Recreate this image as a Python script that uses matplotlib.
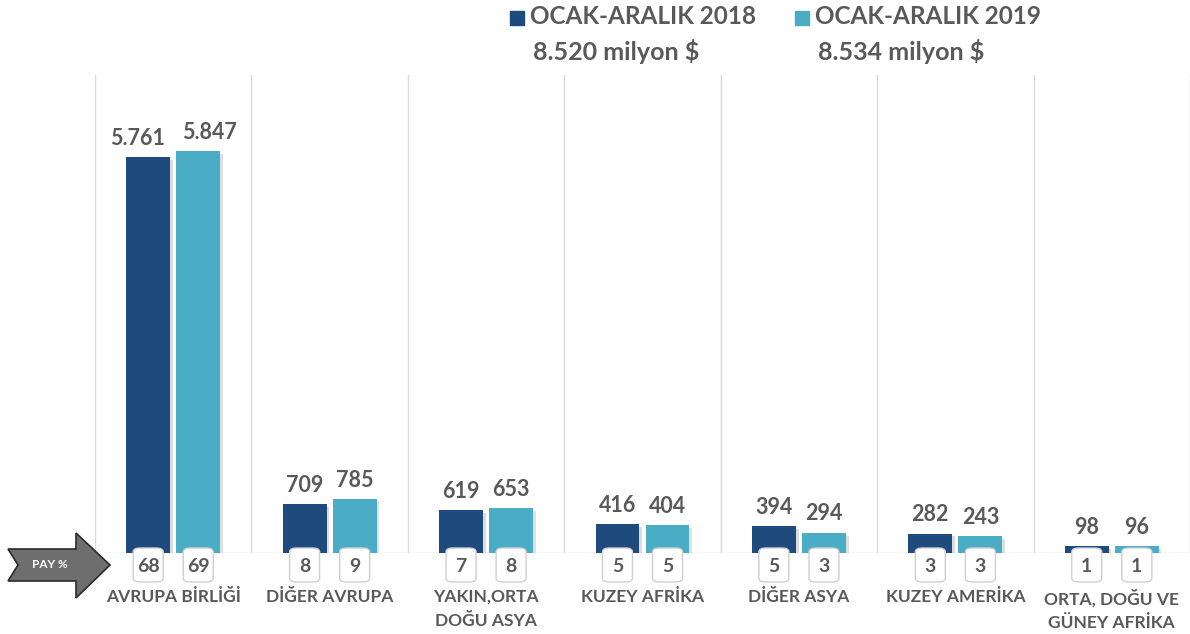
"""Regional export comparison, 2018 vs 2019."""

import matplotlib.pyplot as plt
import matplotlib.patheffects as pe
import numpy as np
from matplotlib.patches import FancyBboxPatch, Polygon

categories = [
    "AVRUPA BİRLİĞİ",
    "DİĞER AVRUPA",
    "YAKIN,ORTA\nDOĞU ASYA",
    "KUZEY AFRİKA",
    "DİĞER ASYA",
    "KUZEY AMERİKA",
    "ORTA, DOĞU VE\nGÜNEY AFRİKA",
]
values_2018 = [5761, 709, 619, 416, 394, 282, 98]
values_2019 = [5847, 785, 653, 404, 294, 243, 96]
share_2018 = [68, 8, 7, 5, 5, 3, 1]
share_2019 = [69, 9, 8, 5, 3, 3, 1]
legend_labels = ["OCAK-ARALIK 2018", "OCAK-ARALIK 2019"]
totals = ["8.520 milyon $", "8.534 milyon $"]

DARK = "#1f4a7e"
LIGHT = "#4bacc6"
TEXT = "#595959"
GRID = "#d9d9d9"

plt.rcParams["font.family"] = ["Lato", "DejaVu Sans"]

W, H = 1190, 634
fig = plt.figure(figsize=(W / 100, H / 100), dpi=100)


def fx(px):
    return px / W


def fy(py):
    return 1 - py / H


def fmt(v):
    return f"{v:,}".replace(",", ".")


ax = fig.add_axes([fx(95), fy(553), fx(1190 - 95), fy(75) - fy(553)])
ax.set_xlim(0, len(categories))
ax.set_ylim(0, 6958)
ax.axis("off")

x = np.arange(len(categories)) + 0.5
off = 0.16
bw = 0.28
shadow = [pe.SimplePatchShadow(offset=(2, -2), alpha=0.15), pe.Normal()]

for i in range(len(categories) + 1):
    ax.axvline(i, color=GRID, lw=1, zorder=0)
ax.axhline(0, color=GRID, lw=1, zorder=0)

b1 = ax.bar(x - off, values_2018, bw, color=DARK, zorder=2)
b2 = ax.bar(x + off, values_2019, bw, color=LIGHT, zorder=2)
for bar in list(b1) + list(b2):
    bar.set_path_effects(shadow)

for xs, vals, side in ((x - off, values_2018, -1), (x + off, values_2019, 1)):
    for xi, v in zip(xs, vals):
        label = fmt(v)
        # wide labels get pushed apart so they don't collide
        dx = side * 8 if len(label) > 3 else 0
        ax.annotate(label, (xi, v), xytext=(dx, 6), textcoords="offset points",
                    ha="center", va="bottom", fontsize=15.5, fontweight="bold",
                    color=TEXT)

# share boxes straddling the baseline
for xs, shares in ((x - off, share_2018), (x + off, share_2019)):
    for xi, s in zip(xs, shares):
        px = 95 + xi * (1190 - 95) / len(categories)
        box = FancyBboxPatch((fx(px - 15), fy(582)), fx(30), fy(548) - fy(582),
                             boxstyle="round,pad=0,rounding_size=0.006",
                             transform=fig.transFigure, facecolor="white",
                             edgecolor="#cfcfcf", lw=1, zorder=5)
        fig.patches.append(box)
        fig.text(fx(px), fy(566), str(s), ha="center", va="center",
                 fontsize=14, fontweight="bold", color=TEXT, zorder=6)

for xi, cat in zip(x, categories):
    px = 95 + xi * (1190 - 95) / len(categories)
    fig.text(fx(px), fy(589), cat, ha="center", va="top", fontsize=12.5,
             fontweight="bold", color=TEXT, linespacing=1.6)

# PAY % arrow
arrow = Polygon([(fx(8), fy(549)), (fx(76), fy(549)), (fx(76), fy(533)),
                 (fx(110), fy(565)), (fx(76), fy(598)), (fx(76), fy(581)),
                 (fx(8), fy(581)), (fx(18), fy(565))],
                closed=True, transform=fig.transFigure, facecolor="#6e6e6e",
                edgecolor="#2b2b2b", lw=1.2, zorder=3)
fig.patches.append(arrow)
fig.text(fx(50), fy(565), "PAY %", ha="center", va="center", fontsize=8.5,
         fontweight="bold", color="white", zorder=4)

# legend
for sx, col, lab, tot in ((510, DARK, legend_labels[0], totals[0]),
                          (795, LIGHT, legend_labels[1], totals[1])):
    fig.patches.append(plt.Rectangle((fx(sx), fy(25)), fx(14), fy(11) - fy(25),
                                     transform=fig.transFigure, color=col))
    fig.text(fx(sx + 20), fy(17), lab, ha="left", va="center", fontsize=17.5,
             fontweight="bold", color=TEXT)
    fig.text(fx(sx + 23), fy(52), tot, ha="left", va="center", fontsize=18,
             fontweight="bold", color=TEXT)

fig.savefig("out.png", dpi=100)
